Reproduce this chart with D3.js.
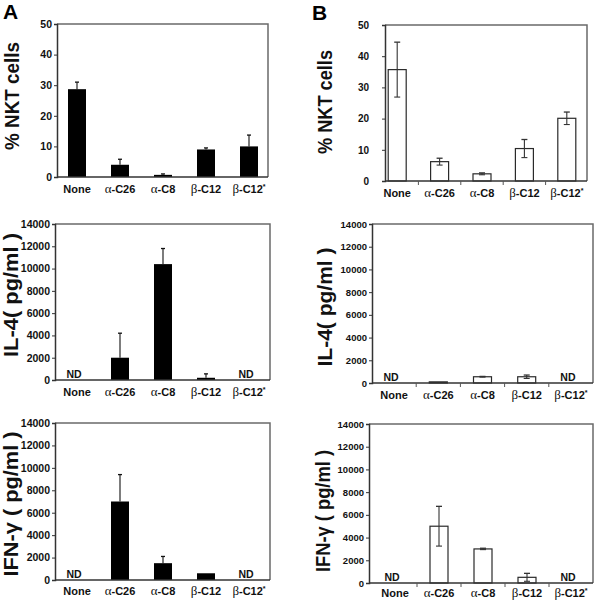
<!DOCTYPE html>
<html>
<head>
<meta charset="utf-8">
<script src="https://cdn.jsdelivr.net/npm/d3@7"></script>
<style>
  html, body { margin: 0; padding: 0; background: #fff; }
  svg { display: block; }
  text { font-family: Arial, "Liberation Sans", sans-serif; }
</style>
</head>
<body>
<script>
// ---------------- data ----------------
const categories = ["None", "α-C26", "α-C8", "β-C12", "β-C12*"];
const nktTicks = [0, 10, 20, 30, 40, 50];
const cytoTicks = [0, 2000, 4000, 6000, 8000, 10000, 12000, 14000];

// Panel A (filled bars, upper error only)
const nktA = [28.7, 4.0, 0.7, 9.0, 10.0];
const nktAErr = [2.3, 1.8, 0.3, 0.5, 3.7];
const il4A = [null, 2000, 10400, 200, null];
const il4AErr = [0, 2200, 1400, 350, 0];
const ifnA = [null, 7000, 1500, 600, null];
const ifnAErr = [0, 2400, 600, 0, 0];

// Panel B (open bars, symmetric error)
const nktB = [35.7, 6.2, 2.3, 10.4, 20.1];
const nktBErr = [8.8, 1.1, 0.3, 2.9, 2.0];
const il4B = [null, 100, 550, 550, null];
const il4BErr = [0, 0, 30, 150, 0];
const ifnB = [null, 5000, 3000, 500, null];
const ifnBErr = [0, 1750, 60, 350, 0];

// ---------------- layout ----------------
const W = 601, H = 602;
const svg = d3.select("body").append("svg").attr("width", W).attr("height", H);

const panels = [
  {vals: nktA, err: nktAErr, ticks: nktTicks, max: 50, style: "A", label: "% NKT cells",
   box: [57, 268, 24, 177], xr: [55.5, 270.5], tickPad: 2, tickFs: 10.5,
   ylab: [12, 96, 108], xlabY: 189},
  {vals: il4A, err: il4AErr, ticks: cytoTicks, max: 14000, style: "A", label: "IL-4( pg/ml )",
   box: [55, 270, 224, 380], xr: [55.5, 270.5], tickPad: 2, tickFs: 10.5,
   ylab: [11, 295, 124], xlabY: 392},
  {vals: ifnA, err: ifnAErr, ticks: cytoTicks, max: 14000, style: "A", label: "IFN-γ ( pg/ml )",
   box: [55, 270, 423, 580], xr: [55.5, 270.5], tickPad: 2, tickFs: 10.5,
   ylab: [11, 504, 145], xlabY: 591},
  {vals: nktB, err: nktBErr, ticks: nktTicks, max: 50, style: "B", label: "% NKT cells",
   box: [385, 587, 25, 181], xr: [376, 588], tickPad: 13, tickFs: 10,
   ylab: [325, 102, 104], xlabY: 193},
  {vals: il4B, err: il4BErr, ticks: cytoTicks, max: 14000, style: "B", label: "IL-4( pg/ml )",
   box: [372, 593, 224, 383], xr: [372, 593], tickPad: 2, tickFs: 9.5,
   ylab: [325, 307, 119], xlabY: 395},
  {vals: ifnB, err: ifnBErr, ticks: cytoTicks, max: 14000, style: "B", label: "IFN-γ ( pg/ml )",
   box: [369, 593, 424, 583], xr: [373, 593], tickPad: 2, tickFs: 9.5,
   ylab: [323, 511, 122], xlabY: 593}
];

// panel letters
svg.append("text").attr("x", 3).attr("y", 19).attr("font-size", 21).attr("font-weight", "bold").text("A");
svg.append("text").attr("x", 312).attr("y", 20).attr("font-size", 21).attr("font-weight", "bold").text("B");

function catLabel(sel, name) {
  // Greek letter in a lighter serif face, rest bold
  const greek = /^[αβ]/.test(name);
  const star = name.endsWith("*");
  let body = name;
  if (greek) {
    sel.append("tspan").attr("font-family", "'Liberation Serif', serif").attr("font-weight", "normal")
      .attr("font-size", 13).text(name[0]);
    body = name.slice(1);
  }
  if (star) body = body.slice(0, -1);
  sel.append("tspan").text(body);
  if (star) sel.append("tspan").attr("font-size", 7).attr("dy", -4).text("*");
}

panels.forEach(p => {
  const [l, r, t, b] = p.box;
  const g = svg.append("g");
  const y = d3.scaleLinear().domain([0, p.max]).range([b, t]);
  const x = d3.scalePoint().domain(categories).range(p.xr).padding(0.5);
  const bw = 18;

  // frame (top/right)
  g.append("path")
    .attr("d", `M${l},${t}H${r}V${b}`)
    .attr("fill", "none").attr("stroke", "#6a6a6a").attr("stroke-width", 1.5);

  // bars
  const data = categories.map((c, i) => ({c, v: p.vals[i], e: p.err[i]}));
  const present = data.filter(d => d.v !== null);
  g.selectAll("rect.bar").data(present).enter().append("rect")
    .attr("class", "bar")
    .attr("x", d => x(d.c) - bw / 2)
    .attr("width", bw)
    .attr("y", d => y(d.v))
    .attr("height", d => y(0) - y(d.v))
    .attr("fill", p.style === "A" ? "#000" : "#fff")
    .attr("stroke", p.style === "A" ? "#000" : "#2a2a2a")
    .attr("stroke-width", p.style === "A" ? 0 : 1.2);

  // error bars
  const eb = present.filter(d => d.e > 0);
  const cap = p.style === "A" ? 2 : 3;
  eb.forEach(d => {
    const cx = x(d.c);
    const hi = y(d.v + d.e);
    const lo = p.style === "A" ? y(d.v) : y(Math.max(0, d.v - d.e));
    const col = p.style === "A" ? "#111" : "#333";
    g.append("line").attr("x1", cx).attr("x2", cx).attr("y1", lo).attr("y2", hi)
      .attr("stroke", col).attr("stroke-width", 1.1);
    g.append("line").attr("x1", cx - cap).attr("x2", cx + cap).attr("y1", hi).attr("y2", hi)
      .attr("stroke", col).attr("stroke-width", 1.3);
    if (p.style === "B") {
      g.append("line").attr("x1", cx - cap).attr("x2", cx + cap).attr("y1", lo).attr("y2", lo)
        .attr("stroke", col).attr("stroke-width", 1.1);
    }
  });

  // ND labels
  data.filter(d => d.v === null).forEach(d => {
    g.append("text").attr("x", x(d.c) - 3).attr("y", y(0) - 2)
      .attr("text-anchor", "middle").attr("font-size", 10.5).attr("font-weight", "bold")
      .attr("fill", "#111").text("ND");
  });

  // y axis
  const ya = g.append("g").attr("transform", `translate(${l},0)`)
    .call(d3.axisLeft(y).tickValues(p.ticks).tickSize(3).tickPadding(p.tickPad).tickFormat(d3.format("d")));
  ya.select(".domain").attr("stroke", "#333").attr("stroke-width", 1.5);
  ya.selectAll(".tick line").attr("stroke", "#333");
  ya.selectAll(".tick text").attr("font-size", p.tickFs).attr("font-weight", "bold")
    .attr("font-family", "Arial, 'Liberation Sans', sans-serif").attr("fill", "#111");

  // x axis line
  g.append("line").attr("x1", l).attr("x2", r).attr("y1", b).attr("y2", b)
    .attr("stroke", "#333").attr("stroke-width", 1.5);
  if (p.style === "B") {
    const pos = categories.map(c => x(c));
    for (let i = 0; i < pos.length - 1; i++) {
      const mx = (pos[i] + pos[i + 1]) / 2;
      g.append("line").attr("x1", mx).attr("x2", mx).attr("y1", b).attr("y2", b + 4)
        .attr("stroke", "#555").attr("stroke-width", 1);
    }
  }

  // category labels
  categories.forEach(c => {
    const tx = g.append("text").attr("x", x(c)).attr("y", p.xlabY + 4)
      .attr("text-anchor", "middle").attr("font-size", 11).attr("font-weight", "bold")
      .attr("fill", "#111");
    catLabel(tx, c);
  });

  // y axis label
  const [lx, ly, len] = p.ylab;
  g.append("text")
    .attr("transform", `translate(${lx + 7},${ly}) rotate(-90)`)
    .attr("text-anchor", "middle")
    .attr("font-size", 20).attr("font-weight", "bold").attr("fill", "#111")
    .attr("textLength", len).attr("lengthAdjust", "spacingAndGlyphs")
    .text(p.label);
});
</script>
</body>
</html>
